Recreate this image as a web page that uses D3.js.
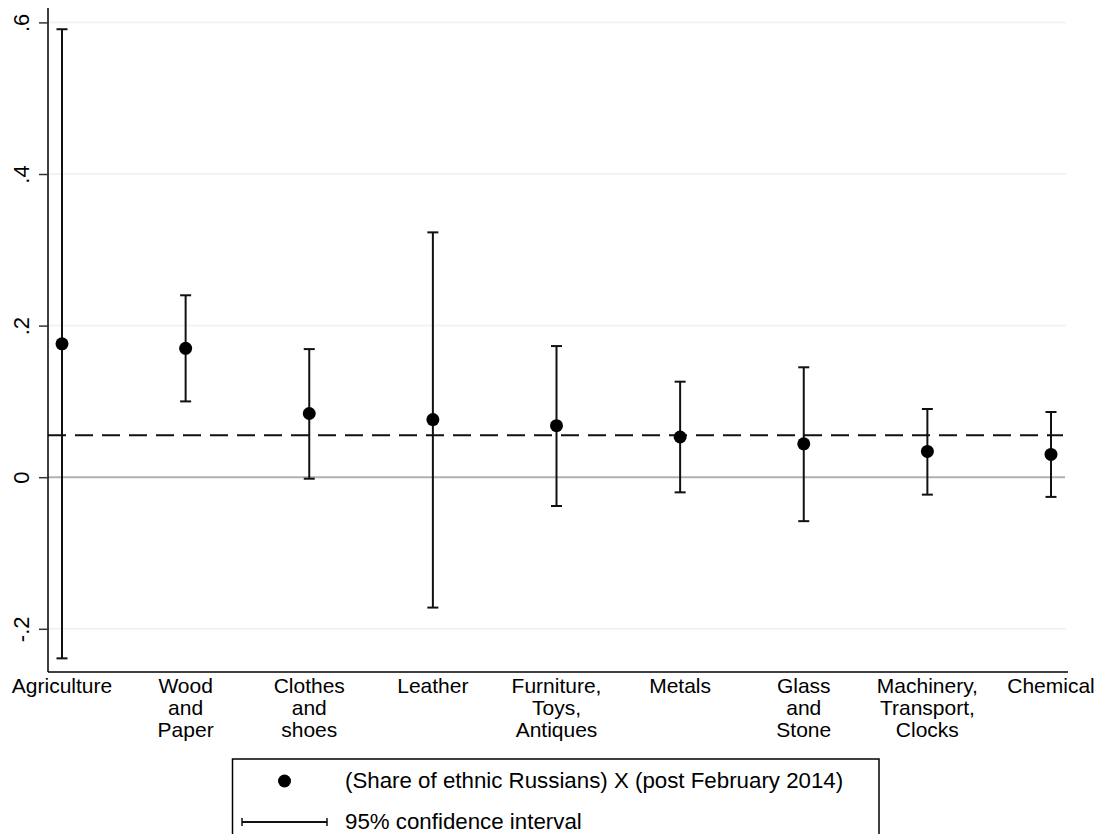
<!DOCTYPE html>
<html>
<head>
<meta charset="utf-8">
<script src="https://cdn.jsdelivr.net/npm/d3@7"></script>
<style>
  body { margin: 0; background: #fff; }
  svg { display: block; font-family: "Liberation Sans", Arial, sans-serif; }
</style>
</head>
<body>
<div id="chart"></div>
<script>
// sector labels (line breaks as in the picture)
const categories = [
  "Agriculture", "Wood\nand\nPaper", "Clothes\nand\nshoes", "Leather",
  "Furniture,\nToys,\nAntiques", "Metals", "Glass\nand\nStone",
  "Machinery,\nTransport,\nClocks", "Chemical"
];
// point estimates and 95% CI bounds
const estimate = [0.176, 0.170, 0.084, 0.076, 0.068, 0.053, 0.044, 0.034, 0.030];
const lower = [-0.239, 0.100, -0.002, -0.172, -0.038, -0.020, -0.058, -0.023, -0.026];
const upper = [0.591, 0.240, 0.169, 0.323, 0.173, 0.126, 0.145, 0.090, 0.086];
const refLine = 0.0554;
const yTicks = [-0.2, 0, 0.2, 0.4, 0.6];
const yTickLabels = ["-.2", "0", ".2", ".4", ".6"];
const legendLabels = ["(Share of ethnic Russians) X (post February 2014)", "95% confidence interval"];

const width = 1097, height = 834;
const plotL = 48, plotR = 1066, plotT = 8, plotB = 672;

const svg = d3.select("#chart").append("svg")
  .attr("width", width)
  .attr("height", height);

const x = d3.scalePoint()
  .domain(categories)
  .range([62, 1051]);

const y = d3.scaleLinear()
  .domain([-0.257, 0.619])
  .range([plotB, plotT]);

const rows = categories.map((c, i) => ({ cat: c, est: estimate[i], lo: lower[i], hi: upper[i] }));

// gridlines
svg.append("g").selectAll("line")
  .data(yTicks.filter(t => t !== 0))
  .enter().append("line")
  .attr("x1", plotL).attr("x2", plotR)
  .attr("y1", d => y(d)).attr("y2", d => y(d))
  .attr("stroke", "#eaf2f3")
  .attr("stroke-width", 1.5);

// zero line
svg.append("line")
  .attr("x1", plotL).attr("x2", plotR - 1)
  .attr("y1", y(0)).attr("y2", y(0))
  .attr("stroke", "#b0b0b0")
  .attr("stroke-width", 2);

// dashed reference line
svg.append("line")
  .attr("x1", plotL).attr("x2", plotR - 3)
  .attr("y1", y(refLine)).attr("y2", y(refLine))
  .attr("stroke", "#111")
  .attr("stroke-width", 2)
  .attr("stroke-dasharray", "18,9");

// y axis
const yAxis = d3.axisLeft(y)
  .tickValues(yTicks)
  .tickFormat((d, i) => yTickLabels[i])
  .tickSize(9)
  .tickPadding(0);

const ga = svg.append("g")
  .attr("transform", `translate(${plotL},0)`)
  .call(yAxis);
ga.select(".domain").attr("d", `M0,${plotT}V${plotB}`).attr("stroke", "#000").attr("stroke-width", 1.5);
ga.selectAll(".tick line").attr("stroke", "#333").attr("stroke-width", 1.5);
ga.selectAll(".tick text")
  .attr("x", null).attr("dy", null)
  .attr("transform", "translate(-19,0) rotate(-90)")
  .attr("text-anchor", "middle")
  .attr("font-size", 22)
  .attr("fill", "#000");

// x axis line
svg.append("line")
  .attr("x1", plotL).attr("x2", plotR + 2)
  .attr("y1", plotB).attr("y2", plotB)
  .attr("stroke", "#000")
  .attr("stroke-width", 1.5);

// x labels
const xl = svg.append("g").selectAll("text")
  .data(categories)
  .enter().append("text")
  .attr("text-anchor", "middle")
  .attr("font-size", 21)
  .attr("fill", "#000");
xl.each(function(d) {
  const t = d3.select(this);
  d.split("\n").forEach((line, i) => {
    t.append("tspan")
      .attr("x", x(d))
      .attr("y", 693 + i * 21.8)
      .text(line);
  });
});

// error bars
const bars = svg.append("g").selectAll("g")
  .data(rows)
  .enter().append("g")
  .attr("stroke", "#111")
  .attr("stroke-width", 2);
bars.append("line")
  .attr("x1", d => x(d.cat)).attr("x2", d => x(d.cat))
  .attr("y1", d => y(d.lo)).attr("y2", d => y(d.hi));
bars.append("line")
  .attr("x1", d => x(d.cat) - 5.5).attr("x2", d => x(d.cat) + 5.5)
  .attr("y1", d => y(d.hi)).attr("y2", d => y(d.hi));
bars.append("line")
  .attr("x1", d => x(d.cat) - 5.5).attr("x2", d => x(d.cat) + 5.5)
  .attr("y1", d => y(d.lo)).attr("y2", d => y(d.lo));

// points
svg.append("g").selectAll("circle")
  .data(rows)
  .enter().append("circle")
  .attr("cx", d => x(d.cat))
  .attr("cy", d => y(d.est))
  .attr("r", 6.5)
  .attr("fill", "#000");

// legend
const lg = svg.append("g");
lg.append("rect")
  .attr("x", 232.5).attr("y", 759)
  .attr("width", 646.5).attr("height", 100)
  .attr("fill", "#fff")
  .attr("stroke", "#000")
  .attr("stroke-width", 1.5);
lg.append("circle")
  .attr("cx", 284.5).attr("cy", 781)
  .attr("r", 6.5)
  .attr("fill", "#000");
lg.append("line")
  .attr("x1", 242).attr("x2", 327)
  .attr("y1", 822).attr("y2", 822)
  .attr("stroke", "#111").attr("stroke-width", 2);
[242, 327].forEach(px => {
  lg.append("line")
    .attr("x1", px).attr("x2", px)
    .attr("y1", 818).attr("y2", 826)
    .attr("stroke", "#111").attr("stroke-width", 1.5);
});
lg.selectAll("text.leg")
  .data(legendLabels)
  .enter().append("text")
  .attr("class", "leg")
  .attr("x", 345)
  .attr("y", (d, i) => 788 + i * 41)
  .attr("font-size", 22.3)
  .attr("fill", "#000")
  .text(d => d);
</script>
</body>
</html>
